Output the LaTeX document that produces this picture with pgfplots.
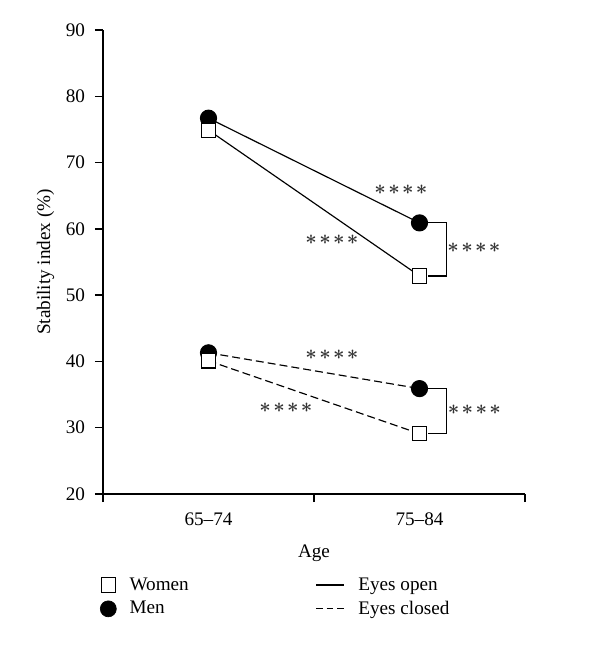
\documentclass[border=0pt]{standalone}
\usepackage{pgfplots}
\pgfplotsset{compat=1.18}
\usepackage{fontspec}
\setmainfont{Liberation Serif}
\newcommand{\fs}{\fontsize{11.5}{13.5}\selectfont}
\newcommand{\sast}{\boldmath$\ast$}
\newcommand{\stars}{{\fontsize{12}{14}\selectfont\sast\hspace{1.4pt}\sast\hspace{1.4pt}\sast\hspace{1.4pt}\sast}}
\begin{document}
\begin{tikzpicture}[x=1pt,y=1pt]
\useasboundingbox (-61.8pt,-90.6pt) rectangle (298.2pt,296.4pt);
\begin{axis}[
  at={(0,0)}, anchor=south west,
  scale only axis, width=253.2pt, height=278.4pt,
  xmin=0, xmax=2, ymin=20, ymax=90,
  axis x line=bottom, axis y line=left,
  axis line style={-, line width=0.9pt},
  xtick={0,1,2}, xticklabels={},
  extra x ticks={0.5,1.5}, extra x tick labels={65--74,75--84},
  extra x tick style={major tick length=0pt, tick label style={yshift=-7.5pt}},
  ytick={20,30,...,90},
  tick align=outside, major tick length=4.8pt,
  tick style={line width=0.9pt, black},
  /pgf/number format/assume math mode=true,
  tick label style={font=\fs},
  yticklabel style={xshift=-2.5pt},
  label style={font=\fs},
  xlabel={Age}, ylabel={Stability index (\%)},
  ylabel style={yshift=0pt},
  xlabel style={yshift=0pt},
  legend columns=2,
  legend style={draw=none, font=\fs, at={(-0.019,-0.165)}, anchor=north west,
    /tikz/every odd column/.append style={column sep=6pt},
    /tikz/every even column/.append style={column sep=74pt},
    row sep=1pt},
  legend cell align=left,
  clip=false,
]
% Men, eyes open
\addplot[black, line width=0.7pt, mark=*, mark size=4.8pt, forget plot] coordinates {(0.5,76.7) (1.5,60.9)};
% Women, eyes open
\addplot[black, line width=0.7pt, mark=square*, mark size=4.3pt, mark options={fill=white, solid, line width=0.7pt}, forget plot] coordinates {(0.5,74.9) (1.5,52.9)};
% Men, eyes closed
\addplot[black, line width=0.7pt, dash pattern=on 4.8pt off 2.4pt, mark=*, mark size=4.8pt, mark options={solid}, forget plot] coordinates {(0.5,41.3) (1.5,35.9)};
% Women, eyes closed
\addplot[black, line width=0.7pt, dash pattern=on 4.8pt off 2.4pt, mark=square*, mark size=4.3pt, mark options={fill=white, solid, line width=0.7pt}, forget plot] coordinates {(0.5,40.1) (1.5,29.1)};

\addlegendimage{only marks, mark=square*, mark size=4.3pt, mark options={fill=white, draw=black, line width=0.7pt}}
\addlegendentry{Women}
\addlegendimage{black, line width=0.7pt}
\addlegendentry{Eyes open}
\addlegendimage{only marks, mark=*, mark size=4.8pt, black}
\addlegendentry{Men}
\addlegendimage{black, line width=0.7pt, dash pattern=on 4pt off 2.4pt}
\addlegendentry{Eyes closed}

% brackets
\draw[line width=0.7pt] (axis cs:1.54,60.9) -- (axis cs:1.626,60.9) -- (axis cs:1.626,52.9) -- (axis cs:1.54,52.9);
\draw[line width=0.7pt] (axis cs:1.54,35.9) -- (axis cs:1.626,35.9) -- (axis cs:1.626,29.1) -- (axis cs:1.54,29.1);
\begin{scope}[every node/.style={text=black!80}]
\node at (axis cs:1.412,65.9) {\stars};
\node at (axis cs:1.085,58.3) {\stars};
\node at (axis cs:1.758,57.1) {\stars};
\node at (axis cs:1.085,41.0) {\stars};
\node at (axis cs:0.867,33.0) {\stars};
\node at (axis cs:1.760,32.7) {\stars};
\end{scope}
\end{axis}
\end{tikzpicture}
\end{document}
